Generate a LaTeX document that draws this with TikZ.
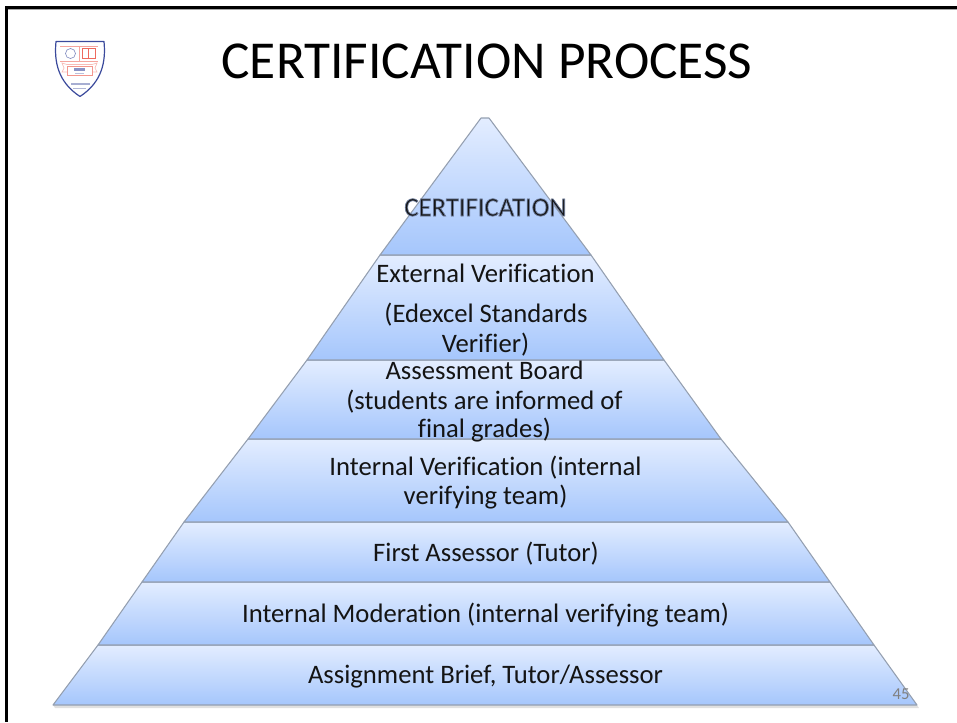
\documentclass[tikz,border=0pt]{standalone}
\usepackage{fontspec}
\setmainfont[Ligatures=NoCommon,RawFeature={-liga;-clig}]{Carlito}
\usetikzlibrary{calc}
\definecolor{tiertop}{HTML}{E3EDFF}
\definecolor{tierbot}{HTML}{A5C6FC}
\definecolor{tieredge}{HTML}{949FB0}
\definecolor{shieldblue}{HTML}{3B4A9C}
\definecolor{shieldred}{HTML}{EE6A5E}
\tikzset{
  tier/.style={draw=tieredge,line width=0.8pt,top color=tiertop,bottom color=tierbot,line join=round},
  tiershadow/.style={fill=black,opacity=0.12},
  tiertext/.style={font=\fontsize{20}{24}\selectfont,align=center,text=black!92,inner sep=0pt},
  titletext/.style={font=\fontsize{40}{48}\selectfont,text=black,inner sep=0pt},
  pagenum/.style={font=\fontsize{12.5}{15}\selectfont,text=black!50,inner sep=0pt},
  framebar/.style={fill=black,draw=none},
}
\begin{document}
\begin{tikzpicture}[x=0.75pt,y=-0.75pt]
\useasboundingbox (0,0) rectangle (957,722);
% frame
\fill[black!35] (8,9) rectangle (957,10);
\fill[framebar] (5,6) rectangle (957,9);
\fill[framebar] (5,6) rectangle (8,722);
% bottom shadow
\fill[tiershadow] (53,705) -- (917,705) -- (919,708) -- (55,708) -- cycle;
% tiers
\path[tier] (53,705) -- (98,645) -- (874,645) -- (917,705) -- cycle;
\path[tier] (98,645) -- (142,582) -- (830,582) -- (874,645) -- cycle;
\path[tier] (142,582) -- (184,522) -- (788,522) -- (830,582) -- cycle;
\path[tier] (184,522) -- (248,439) -- (721,439) -- (788,522) -- cycle;
\path[tier] (248,439) -- (307,360) -- (664,360) -- (721,439) -- cycle;
\path[tier] (307,360) -- (380,255) -- (591,255) -- (664,360) -- cycle;
\path[tier] (380,255) -- (481,118) -- (489,118) -- (591,255) -- cycle;
% title
\node[titletext,anchor=base] (title) at (487,78) {CERTIFICATION PROCESS};
% labels
\node[tiertext,anchor=base] (cert) at (485.5,216) {\special{pdf:code q 2 Tr 0.55 w 0.42 0.48 0.6 RG}CERTIFICATION\special{pdf:code Q}};
\node[tiertext,anchor=base] (ext1) at (485.5,282) {External Verification};
\node[tiertext,anchor=base] (ext2) at (486,322) {(Edexcel Standards};
\node[tiertext,anchor=base] (ext3) at (485.5,352) {Verifier)};
\node[tiertext,anchor=base] (bd1) at (484.5,379) {Assessment Board};
\node[tiertext,anchor=base] (bd2) at (484.5,409) {(students are informed of};
\node[tiertext,anchor=base] (bd3) at (484.5,437) {final grades)};
\node[tiertext,anchor=base] (iv1) at (485.5,475) {Internal Verification (internal};
\node[tiertext,anchor=base] (iv2) at (485.5,504) {verifying team)};
\node[tiertext,anchor=base] (fa) at (486,561) {First Assessor (Tutor)};
\node[tiertext,anchor=base] (im) at (485.5,622) {Internal Moderation (internal verifying team)};
\node[tiertext,anchor=base] (ab) at (485.5,683) {Assignment Brief, Tutor/Assessor};
\node[pagenum,anchor=base] (pg) at (901,699) {45};
% logo
\draw[shieldblue,line width=0.9pt,fill=white,line join=round]
  (56,41.5) -- (104,41.5) .. controls (106,62) and (102,82) .. (80,96.5) .. controls (58,82) and (54,62) .. (56,41.5) -- cycle;
\draw[shieldred!60,line width=0.5pt] (60,46) -- (98,46);
\draw[shieldred!60,line width=0.5pt] (79,46) -- (79,61) (60,61) -- (98,61);
\draw[shieldblue!60,line width=0.5pt] (70.5,53.5) circle (5);
\draw[shieldred,line width=0.6pt] (82,48.5) rectangle (95.5,58);
\draw[shieldred,line width=0.6pt] (88.7,48.5) -- (88.7,58);
\draw[shieldred!45,line width=0.5pt] (62,63) -- (67,64.5) -- (92,64.5) -- (97,63) -- (95,68) -- (97,72) -- (62,72) -- (64,68) -- cycle;
\draw[shieldred!70,fill=white,line width=0.5pt] (67,66) rectangle (92,75);
\fill[shieldblue!60] (74,68) rectangle (85,71);
\fill[shieldblue!35] (75,72.5) rectangle (84,73.5);
\fill[shieldblue!45] (71,83) rectangle (90,84.5);
\fill[shieldblue!40] (73,87.5) rectangle (86,89);
\end{tikzpicture}
\end{document}
